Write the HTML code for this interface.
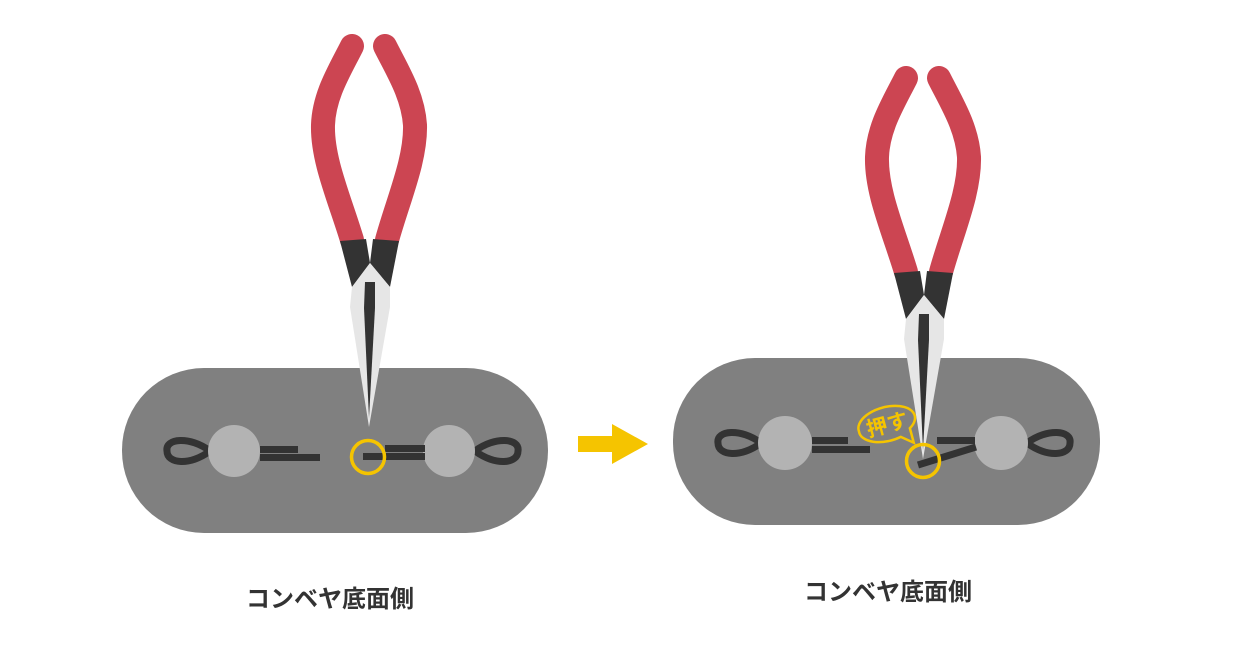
<!DOCTYPE html>
<html><head><meta charset="utf-8"><style>
body{margin:0;background:#fff;width:1258px;height:649px;overflow:hidden}
text{font-family:"Liberation Sans","Noto Sans CJK JP",sans-serif;font-weight:bold}
</style></head><body>
<svg width="1258" height="649" viewBox="0 0 1258 649">
<defs>
<g id="pl">
<path d="M352,46 C340,70 324,95 323,125 C322,160 340,200 352,240" fill="none" stroke="#cc4552" stroke-width="24" stroke-linecap="round"/>
<path d="M385,46 C397,70 413,95 415,125 C416,160 398,200 387,240" fill="none" stroke="#cc4552" stroke-width="24" stroke-linecap="round"/>
<polygon points="340,241 366,239 370,263 352,287" fill="#333"/>
<polygon points="373,239 399,241 390,287 370,263" fill="#333"/>
<polygon points="370,263 390,287 390,307 369,427 350,307 352,287" fill="#e6e6e6"/>
<polygon points="365,282 375,282 375,308 369,418 364,308" fill="#333"/>
</g>
</defs>
<rect x="122" y="368" width="426" height="165" rx="82" fill="#808080"/>
<path d="M210,451 C190,436 165,438 167,451 C167,464 190,466 210,451 Z" fill="none" stroke="#333" stroke-width="7"/>
<circle cx="234" cy="451" r="26" fill="#b3b3b3"/>
<rect x="260" y="446" width="38" height="7" fill="#333"/>
<rect x="260" y="454" width="60" height="7" fill="#333"/>
<path d="M475,451 C495,436 520,438 518,451 C518,464 495,466 475,451 Z" fill="none" stroke="#333" stroke-width="7"/>
<circle cx="449" cy="451" r="26" fill="#b3b3b3"/>
<rect x="385" y="445" width="40" height="7" fill="#333"/>
<rect x="363" y="453" width="62" height="7" fill="#333"/>
<use href="#pl"/>
<circle cx="368" cy="457" r="16.5" fill="none" stroke="#f5c400" stroke-width="3.5"/>
<polygon points="578,436 612,436 612,424 648,444 612,464 612,452 578,452" fill="#f5c400"/>
<rect x="673" y="358" width="427" height="167" rx="82" fill="#808080"/>
<path d="M761,443 C741,428 716,430 718,443 C718,456 741,458 761,443 Z" fill="none" stroke="#333" stroke-width="7"/>
<circle cx="785" cy="443" r="27" fill="#b3b3b3"/>
<rect x="812" y="437" width="36" height="7" fill="#333"/>
<rect x="812" y="446" width="58" height="7" fill="#333"/>
<path d="M1027,443 C1047,428 1072,430 1070,443 C1070,456 1047,458 1027,443 Z" fill="none" stroke="#333" stroke-width="7"/>
<circle cx="1001" cy="443" r="27" fill="#b3b3b3"/>
<rect x="937" y="437" width="38" height="7" fill="#333"/>
<line x1="918" y1="465" x2="976" y2="447" stroke="#333" stroke-width="7"/>
<use href="#pl" transform="translate(554,32)"/>
<circle cx="923" cy="461" r="16.5" fill="none" stroke="#f5c400" stroke-width="3.5"/>
<g transform="rotate(-15 887 424)">
<path d="M858,424 a29,16 0 1,1 50,10 l0,15 l-11,-9 a29,16 0 0,1 -39,-16 Z" fill="#808080" stroke="#f5c400" stroke-width="2.5"/>
<text x="887" y="432" font-size="21" fill="#f5c400" text-anchor="middle">押す</text>
</g>
<text x="330" y="607" font-size="24" fill="#333" text-anchor="middle">コンベヤ底面側</text>
<text x="888" y="600" font-size="24" fill="#333" text-anchor="middle">コンベヤ底面側</text>
</svg>
</body></html>
